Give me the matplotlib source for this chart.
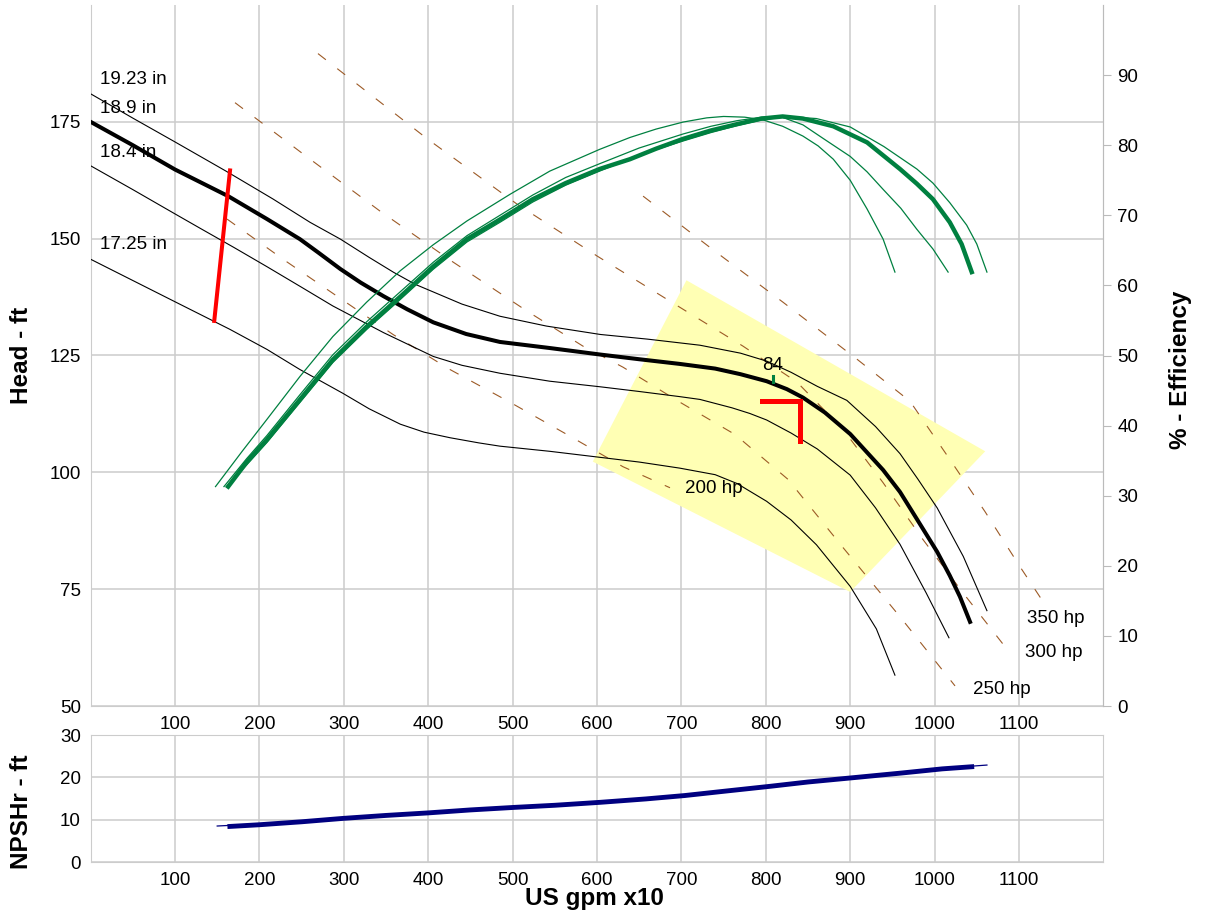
import matplotlib.pyplot as plt

plt.rcParams['font.family'] = ['Liberation Sans', 'DejaVu Sans']

# head curves per impeller diameter (flow in US gpm x10, head in ft)
d1923_q = [0, 50, 100, 160, 216, 260, 296, 330, 359, 385, 406, 440, 485, 540, 604, 660, 722, 770,
           801, 830, 861, 896, 930, 959, 980, 1003, 1034, 1062]
d1923_h = [181, 175.8, 170.7, 164.5, 158.5, 153.5, 149.9, 146.0, 142.8, 140.2, 138.6, 136.0, 133.4,
           131.3, 129.5, 128.5, 127.2, 125.5, 123.8, 121.4, 118.4, 115.4, 109.8, 104.0, 98.6, 92.4,
           82.0, 70.4]
d189_q = [0, 50, 100, 163, 209, 248, 270, 296, 320, 347, 375, 406, 445, 485, 544, 604, 650, 698,
          740, 770, 801, 825, 844, 870, 900, 939, 959, 979, 1003, 1018, 1030, 1042]
d189_h = [175, 170.0, 164.8, 159.1, 154.2, 149.9, 147.0, 143.5, 140.6, 137.7, 134.9, 132.1, 129.6,
          127.9, 126.6, 125.2, 124.2, 123.2, 122.2, 121.0, 119.5, 117.8, 116.0, 112.8, 108.2, 100.5,
          95.8, 90.0, 83.0, 77.9, 73.4, 68]
d184_q = [0, 50, 100, 130, 170, 209, 250, 287, 347, 406, 440, 485, 544, 604, 650, 698, 722, 760,
          781, 801, 830, 861, 900, 930, 959, 990, 1017]
d184_h = [165.6, 160.5, 155.3, 152.2, 148.1, 144.0, 139.6, 135.6, 129.9, 124.8, 122.9, 121.2,
          119.5, 118.3, 117.3, 116.2, 115.6, 113.8, 112.6, 111.2, 108.4, 105.0, 99.4, 92.4, 84.6,
          74.2, 64.6]
d1725_q = [0, 100, 165, 209, 248, 299, 330, 367, 395, 426, 460, 485, 544, 604, 650, 698, 740, 766,
           801, 830, 860, 900, 931, 953]
d1725_h = [145.6, 136.5, 130.6, 126.3, 122.0, 116.9, 113.6, 110.3, 108.6, 107.4, 106.3, 105.6,
           104.5, 103.2, 102.2, 100.9, 99.5, 97.6, 93.8, 89.8, 84.5, 75.6, 66.5, 56.6]

diam_labels = ["19.23 in", "18.9 in", "18.4 in", "17.25 in"]
diam_label_h = [184.1, 177.8, 168.5, 148.7]

# efficiency curves (%)
e1923_q = [161, 185, 209, 248, 287, 327, 367, 406, 446, 485, 524, 563, 603, 650, 702, 735, 766,
           795, 825, 860, 900, 940, 979, 998, 1018, 1038, 1050, 1062]
e1923_e = [31.3, 34.4, 37.6, 43.3, 49.0, 53.7, 58.0, 62.3, 66.2, 69.0, 71.9, 74.3, 76.3, 78.6,
           80.6, 81.8, 82.8, 83.6, 84.1, 83.8, 82.6, 79.8, 76.6, 74.6, 71.8, 68.6, 65.9, 61.9]
e189_q = [163, 185, 209, 248, 287, 327, 367, 406, 446, 485, 524, 563, 603, 639, 670, 702, 735,
          766, 795, 820, 844, 880, 920, 959, 979, 998, 1018, 1032, 1044]
e189_e = [31.3, 34.8, 38.0, 43.7, 49.4, 54.1, 58.4, 62.7, 66.6, 69.4, 72.3, 74.6, 76.6, 78.0, 79.5,
          80.9, 82.1, 83.0, 83.8, 84.1, 83.8, 82.7, 80.4, 76.6, 74.5, 72.3, 69.0, 65.9, 61.9]
e184_q = [158, 185, 209, 248, 287, 327, 367, 406, 446, 485, 524, 563, 604, 650, 702, 735, 766,
          795, 817, 844, 870, 900, 920, 939, 960, 979, 998, 1016]
e184_e = [31.3, 35.3, 38.6, 44.4, 50.1, 54.8, 59.1, 63.3, 67.1, 70.0, 72.9, 75.4, 77.4, 79.6, 81.6,
          82.7, 83.5, 84.0, 84.1, 82.9, 80.8, 78.4, 76.2, 73.7, 71.0, 68.0, 65.2, 61.9]
e1725_q = [148, 180, 209, 248, 287, 327, 367, 406, 446, 497, 544, 603, 639, 670, 702, 730, 750,
           775, 797, 820, 844, 862, 880, 900, 920, 939, 953]
e1725_e = [31.3, 36.4, 40.9, 47.0, 52.7, 57.6, 62.1, 65.8, 69.2, 73.0, 76.3, 79.4, 81.1, 82.3, 83.3,
           83.9, 84.1, 84.0, 83.6, 82.7, 81.3, 79.9, 78.0, 75.0, 70.9, 66.6, 61.9]

# power lines
p200_q = [161.6, 228, 291.9, 358.3, 425.8, 496.9, 564.4, 630.8, 686.5]
p200_h = [154.2, 145.6, 137.7, 129.5, 122.0, 115.0, 108.1, 101.2, 96.7]
p250_q = [171.1, 256.4, 342.9, 429.4, 517.1, 583.4, 630.8, 698.3, 763.5, 826.3, 891.5, 959.0, 1024.2]
p250_h = [179.1, 167.5, 155.9, 145.0, 134.5, 127.0, 122.5, 115.0, 108.1, 98.5, 83.9, 69.1, 54.3]
p300_q = [269.4, 398.6, 505.2, 600.0, 701.9, 773.0, 837.0, 891.5, 938.9, 986.3, 1033.7, 1083.4]
p300_h = [189.6, 171.4, 157.4, 146.3, 134.9, 127.0, 119.3, 109.2, 97.8, 85.6, 74.2, 62.7]
p350_q = [654.6, 739.8, 820.4, 908.1, 970.9, 1018.3, 1059.7, 1101.2, 1130.8]
p350_h = [159.1, 147.3, 136.4, 124.2, 115.2, 102.7, 91.6, 79.8, 71.7]
hp_labels = ["200 hp", "250 hp", "300 hp", "350 hp"]
hp_label_q = [704, 1045, 1107, 1109]
hp_label_h = [96.6, 53.5, 61.4, 68.7]

# preferred operating region and markers
por_q = [706, 1060, 900, 595]
por_h = [141.1, 104.5, 74.4, 102.3]
min_dia_q = [165.2, 146.5]
min_dia_h = [164.6, 132.4]
duty_q = [796, 841, 841]
duty_h = [115.2, 115.2, 106.7]
bep_q, bep_h, bep_eff = 808, 119.8, 84

# NPSHr
npsh_q = [150, 200, 300, 400, 500, 600, 700, 800, 900, 1000, 1062]
npsh_v = [8.5, 9.0, 10.4, 11.8, 13.0, 14.1, 15.7, 17.9, 20.0, 22.0, 22.9]
npsh18_q = [165, 200, 250, 299, 350, 400, 450, 502, 550, 604, 658, 704, 750, 806, 850, 908, 960,
            1009, 1044]
npsh18_v = [8.4, 8.8, 9.5, 10.3, 11.0, 11.6, 12.3, 12.9, 13.4, 14.1, 14.9, 15.7, 16.7, 17.9, 18.9,
            20.0, 21.0, 22.0, 22.5]

W, H = 1207, 913
fig = plt.figure(figsize=(W / 100, H / 100), dpi=100)
grid_c = '#cccccc'
green = '#008040'
fs = 13.5

ax = fig.add_axes([90.6 / W, 1 - 706 / H, 1012.8 / W, 701 / H])
ax.set_xlim(0, 1200)
ax.set_ylim(50, 200)
ax.set_xticks(range(100, 1200, 100))
ax.set_yticks(range(50, 200, 25))
ax.grid(True, color=grid_c, lw=1.1)
ax.set_axisbelow(True)
ax.tick_params(length=0, labelsize=fs, pad=7)
for s in ['left', 'bottom', 'right']:
    ax.spines[s].set_color(grid_c)
ax.spines['top'].set_visible(False)

ax.fill(por_q, por_h, color='#ffffb4', zorder=1, lw=0)
for q, h in [(p200_q, p200_h), (p250_q, p250_h), (p300_q, p300_h), (p350_q, p350_h)]:
    ax.plot(q, h, color='#9c5a26', lw=0.8, dashes=(9, 13), zorder=2)
for t, q, h in zip(hp_labels, hp_label_q, hp_label_h):
    ax.text(q, h, t, fontsize=fs, va='center', ha='left', zorder=5)

ax.plot(d1923_q, d1923_h, color='black', lw=0.8, zorder=3)
ax.plot(d189_q, d189_h, color='black', lw=2.9, zorder=3)
ax.plot(d184_q, d184_h, color='black', lw=0.8, zorder=3)
ax.plot(d1725_q, d1725_h, color='black', lw=0.8, zorder=3)
for t, h in zip(diam_labels, diam_label_h):
    ax.text(11, h, t, fontsize=fs, va='center', ha='left', zorder=5)

ax.plot(min_dia_q, min_dia_h, color='red', lw=2.9, zorder=4)
ax.plot(duty_q, duty_h, color='red', lw=3.6, zorder=4, solid_joinstyle='miter')
ax.plot([bep_q, bep_q], [bep_h - 0.5, bep_h + 0.8], color=green, lw=2.2, zorder=4)
ax.text(bep_q, bep_h + 3.1, str(bep_eff), fontsize=fs, ha='center', va='center', zorder=5)

ax2 = ax.twinx()
ax2.set_ylim(0, 100)
ax2.set_yticks(range(0, 100, 10))
ax2.tick_params(axis='y', length=6, color='#bbbbbb', labelsize=fs, pad=4)
for s in ['left', 'top', 'bottom']:
    ax2.spines[s].set_visible(False)
ax2.spines['right'].set_color('#bbbbbb')
ax2.plot(e1923_q, e1923_e, color=green, lw=0.9)
ax2.plot(e184_q, e184_e, color=green, lw=0.9)
ax2.plot(e1725_q, e1725_e, color=green, lw=0.9)
ax2.plot(e189_q, e189_e, color=green, lw=3.2)

ax3 = fig.add_axes([90.6 / W, 1 - 862 / H, 1012.8 / W, 127 / H])
ax3.set_xlim(0, 1200)
ax3.set_ylim(0, 30)
ax3.set_xticks(range(100, 1200, 100))
ax3.set_yticks(range(0, 31, 10))
ax3.grid(True, color=grid_c, lw=1.1)
ax3.set_axisbelow(True)
ax3.tick_params(length=0, labelsize=fs, pad=7)
for s in ax3.spines.values():
    s.set_color(grid_c)
ax3.plot(npsh_q, npsh_v, color='#000080', lw=0.9)
ax3.plot(npsh18_q, npsh18_v, color='#000080', lw=3.5)

lab = dict(fontsize=17.5, fontweight='bold')
fig.text(22 / W, 1 - 355 / H, 'Head - ft', rotation=90, ha='center', va='center', **lab)
fig.text(1180 / W, 1 - 370 / H, '% - Efficiency', rotation=90, ha='center', va='center', **lab)
fig.text(22 / W, 1 - 812 / H, 'NPSHr - ft', rotation=90, ha='center', va='center', **lab)
fig.text(594 / W, 1 - 898 / H, 'US gpm x10', ha='center', va='center', **lab)

fig.savefig('out.png', dpi=100)
